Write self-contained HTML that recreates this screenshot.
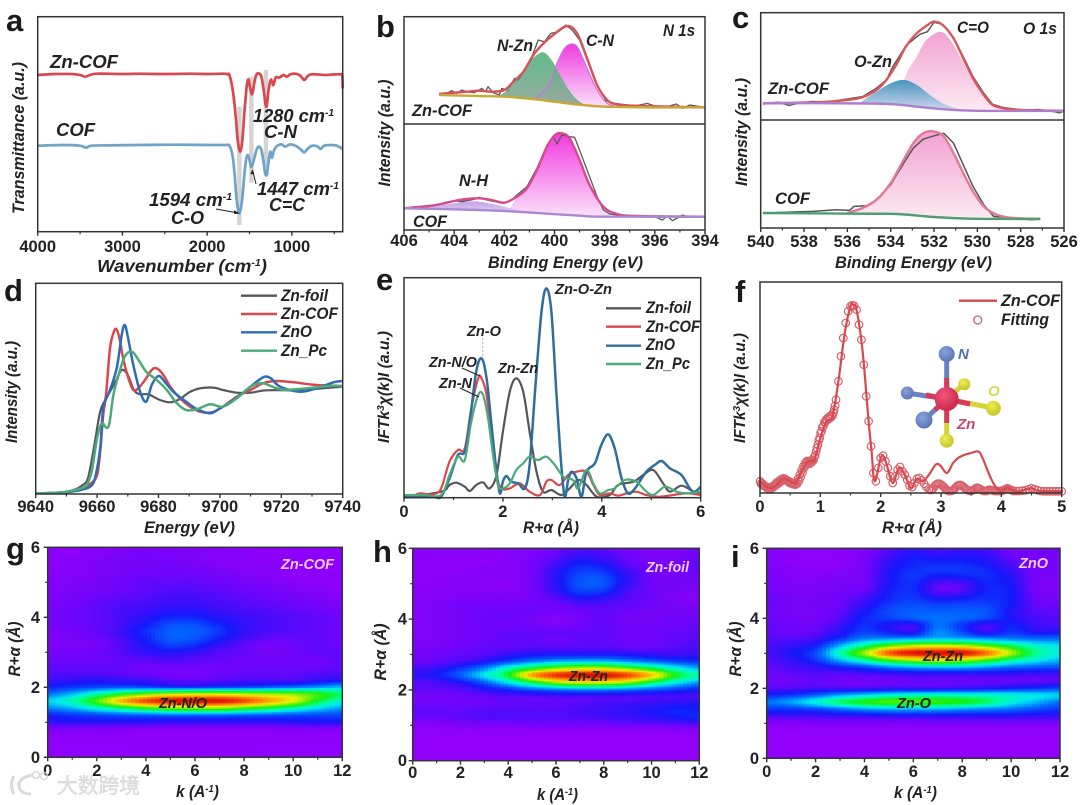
<!DOCTYPE html>
<html lang="en">
<head>
<meta charset="utf-8">
<title>Zn-COF characterisation figure</title>
<style>
html,body{margin:0;padding:0;background:#fff;width:1080px;height:805px;overflow:hidden}
svg{display:block;filter:blur(.3px)}
text{font-family:"Liberation Sans","Noto Sans CJK SC",sans-serif;fill:#222}
.l{font-weight:bold;font-size:31px;fill:#1a1a1a}
.a{font-weight:bold;font-style:italic;font-size:16.5px}
.b{font-weight:bold;font-size:16.5px}
.f{fill:none;stroke:#333;stroke-width:1.5}
</style>
</head>
<body>
<svg id="figure" xmlns="http://www.w3.org/2000/svg" width="1080" height="805" viewBox="0 0 1080 805">
<defs>
<linearGradient id="gPink" x1="0" y1="0" x2="0" y2="1"><stop offset="0" stop-color="#f03ae0"/><stop offset="1" stop-color="#fbe0fa"/></linearGradient>
<linearGradient id="gGreen" x1="0" y1="0" x2="0" y2="1"><stop offset="0" stop-color="#4fb57c"/><stop offset="1" stop-color="#8fa59a"/></linearGradient>
<linearGradient id="gRose" x1="0" y1="0" x2="0" y2="1"><stop offset="0" stop-color="#f3a2d2"/><stop offset="1" stop-color="#fbeaf2"/></linearGradient>
<linearGradient id="gTeal" x1="0" y1="0" x2="0" y2="1"><stop offset="0" stop-color="#3f8fbd"/><stop offset="1" stop-color="#c9d6ea"/></linearGradient>
<linearGradient id="gLilac" x1="0" y1="0" x2="0" y2="1"><stop offset="0" stop-color="#c39fe6"/><stop offset="1" stop-color="#dccbf0"/></linearGradient>
<radialGradient id="bZn" cx=".4" cy=".35" r=".7"><stop offset="0" stop-color="#f0557a"/><stop offset="1" stop-color="#c9254a"/></radialGradient>
<radialGradient id="bN" cx=".4" cy=".35" r=".7"><stop offset="0" stop-color="#8aa2dc"/><stop offset="1" stop-color="#5472b4"/></radialGradient>
<radialGradient id="bO" cx=".4" cy=".35" r=".7"><stop offset="0" stop-color="#eeee55"/><stop offset="1" stop-color="#c2c224"/></radialGradient>
<clipPath id="clipG"><rect x="47.7" y="547.3" width="294.6" height="210"/></clipPath>
<clipPath id="clipH"><rect x="412.7" y="548.3" width="286.6" height="212.4"/></clipPath>
<clipPath id="clipI"><rect x="766.7" y="548.3" width="293.3" height="210"/></clipPath>
</defs>

<g id="marks"></g>

<g>
<rect class="f" x="37.7" y="16.7" width="305" height="215"/>
<rect class="f" x="404" y="16.7" width="301" height="213.3"/>
<line class="f" x1="404" x2="705" y1="124" y2="124"/>
<rect class="f" x="760.7" y="12.7" width="303.3" height="215.3"/>
<line class="f" x1="760.7" x2="1064" y1="120" y2="120"/>
<rect class="f" x="35.7" y="283.3" width="307" height="210.7"/>
<rect class="f" x="404" y="277.7" width="296.7" height="220"/>
<rect class="f" x="760" y="282" width="301.7" height="211"/>
<rect class="f" x="47.7" y="547.3" width="294.6" height="210"/>
<rect class="f" x="412.7" y="548.3" width="286.6" height="212.4"/>
<rect class="f" x="766.7" y="548.3" width="293.3" height="210"/>
</g>

<g>
<text class="l" x="6" y="31">a</text>
<text class="l" x="376" y="37">b</text>
<text class="l" x="732" y="28">c</text>
<text class="l" x="4" y="301">d</text>
<text class="l" x="376" y="290">e</text>
<text class="l" x="735" y="302">f</text>
<text class="l" x="6" y="559">g</text>
<text class="l" x="373" y="562">h</text>
<text class="l" x="731" y="567">i</text>
</g>

<g>
<text class="a" x="50" y="68" textLength="68" lengthAdjust="spacingAndGlyphs" style="font-size:18.5px">Zn-COF</text>
<text class="a" x="56" y="136" textLength="39" lengthAdjust="spacingAndGlyphs" style="font-size:18.5px">COF</text>
<text class="a" x="253" y="122" textLength="81" lengthAdjust="spacingAndGlyphs" style="font-size:18px">1280 cm<tspan dy="-6" font-size="10">-1</tspan></text>
<text class="a" x="264" y="138" textLength="33" lengthAdjust="spacingAndGlyphs" style="font-size:18px">C-N</text>
<text class="a" x="257" y="195" textLength="82" lengthAdjust="spacingAndGlyphs" style="font-size:18px">1447 cm<tspan dy="-6" font-size="10">-1</tspan></text>
<text class="a" x="269" y="211" textLength="36" lengthAdjust="spacingAndGlyphs" style="font-size:18px">C=C</text>
<text class="a" x="149" y="206" textLength="83" lengthAdjust="spacingAndGlyphs" style="font-size:18px">1594 cm<tspan dy="-6" font-size="10">-1</tspan></text>
<text class="a" x="171" y="224" textLength="33" lengthAdjust="spacingAndGlyphs" style="font-size:18px">C-O</text>
<line x1="216" y1="209" x2="238" y2="213" stroke="#222" stroke-width="1"/>
<path d="M240 213.5l-6-3.4.2 4z" fill="#222"/>
<line x1="256" y1="184" x2="253" y2="172" stroke="#222" stroke-width="1"/>
<path d="M252.5 169l-2.2 5.4 4 -.6z" fill="#222"/>
<text class="a" transform="translate(24 138) rotate(-90)" text-anchor="middle" textLength="152" lengthAdjust="spacingAndGlyphs" style="font-size:17px">Transmittance (a.u.)</text>
<text class="a" x="97" y="272" textLength="170" lengthAdjust="spacingAndGlyphs" style="font-size:17.5px">Wavenumber (cm<tspan dy="-6" font-size="10">-1</tspan><tspan dy="6">)</tspan></text>
</g>

<g>
<text class="a" x="497" y="51" textLength="36" lengthAdjust="spacingAndGlyphs">N-Zn</text>
<text class="a" x="586" y="46" textLength="28" lengthAdjust="spacingAndGlyphs">C-N</text>
<text class="a" x="663" y="36" textLength="32" lengthAdjust="spacingAndGlyphs">N 1s</text>
<text class="a" x="412" y="116" textLength="60" lengthAdjust="spacingAndGlyphs">Zn-COF</text>
<text class="a" x="459" y="186" textLength="29" lengthAdjust="spacingAndGlyphs">N-H</text>
<text class="a" x="413" y="227" textLength="34" lengthAdjust="spacingAndGlyphs">COF</text>
<text class="a" transform="translate(390 133) rotate(-90)" text-anchor="middle" textLength="107" lengthAdjust="spacingAndGlyphs">Intensity (a.u.)</text>
<text class="a" x="488" y="268" textLength="155" lengthAdjust="spacingAndGlyphs">Binding Energy (eV)</text>
</g>

<g>
<text class="a" x="957" y="33" textLength="32" lengthAdjust="spacingAndGlyphs">C=O</text>
<text class="a" x="1023" y="34" textLength="34" lengthAdjust="spacingAndGlyphs">O 1s</text>
<text class="a" x="854" y="67" textLength="38" lengthAdjust="spacingAndGlyphs">O-Zn</text>
<text class="a" x="768" y="94" textLength="61" lengthAdjust="spacingAndGlyphs">Zn-COF</text>
<text class="a" x="775" y="204" textLength="35" lengthAdjust="spacingAndGlyphs">COF</text>
<text class="a" transform="translate(747 132) rotate(-90)" text-anchor="middle" textLength="108" lengthAdjust="spacingAndGlyphs">Intensity (a.u.)</text>
<text class="a" x="835" y="268" textLength="157" lengthAdjust="spacingAndGlyphs">Binding Energy (eV)</text>
</g>

<g>
<text class="a" transform="translate(17 392) rotate(-90)" text-anchor="middle" textLength="102" lengthAdjust="spacingAndGlyphs">Intensity (a.u.)</text>
<text class="a" x="144" y="533" textLength="91" lengthAdjust="spacingAndGlyphs">Energy (eV)</text>
<g stroke-width="2.4">
<line x1="241" x2="277" y1="295.7" y2="295.7" stroke="#56565a"/>
<line x1="241" x2="277" y1="314" y2="314" stroke="#d9484f"/>
<line x1="241" x2="277" y1="332.3" y2="332.3" stroke="#2d6db5"/>
<line x1="241" x2="277" y1="350.7" y2="350.7" stroke="#4ea97a"/>
</g>
<text class="a" x="281" y="301" textLength="47" lengthAdjust="spacingAndGlyphs">Zn-foil</text>
<text class="a" x="281" y="319" textLength="57" lengthAdjust="spacingAndGlyphs">Zn-COF</text>
<text class="a" x="281" y="337" textLength="31" lengthAdjust="spacingAndGlyphs">ZnO</text>
<text class="a" x="281" y="356" textLength="46" lengthAdjust="spacingAndGlyphs">Zn_Pc</text>
</g>

<g>
<text class="a" x="555" y="294" textLength="57" lengthAdjust="spacingAndGlyphs" style="font-size:15px">Zn-O-Zn</text>
<text class="a" x="467" y="336" textLength="34" lengthAdjust="spacingAndGlyphs" style="font-size:15px">Zn-O</text>
<text class="a" x="429" y="367" textLength="48" lengthAdjust="spacingAndGlyphs" style="font-size:15px">Zn-N/O</text>
<text class="a" x="439" y="388" textLength="33" lengthAdjust="spacingAndGlyphs" style="font-size:15px">Zn-N</text>
<text class="a" x="498" y="373" textLength="40" lengthAdjust="spacingAndGlyphs" style="font-size:15px">Zn-Zn</text>
<line x1="462" y1="368" x2="480" y2="376" stroke="#222" stroke-width="1"/>
<line x1="460" y1="388" x2="479" y2="397" stroke="#222" stroke-width="1"/>
<line x1="482.7" x2="482.7" y1="338" y2="358" stroke="#a8a8e0" stroke-dasharray="2 2" stroke-width="1"/>
<text class="a" transform="translate(389 387) rotate(-90)" text-anchor="middle" textLength="112" lengthAdjust="spacingAndGlyphs" style="font-size:15.5px">IFTk<tspan dy="-5" font-size="10">3</tspan><tspan dy="5">χ(k)I (a.u.)</tspan></text>
<text class="a" x="523" y="533" textLength="56" lengthAdjust="spacingAndGlyphs">R+α (Å)</text>
<g stroke-width="2.4">
<line x1="606" x2="641" y1="308.3" y2="308.3" stroke="#56565a"/>
<line x1="606" x2="641" y1="326.7" y2="326.7" stroke="#d9484f"/>
<line x1="606" x2="641" y1="345.7" y2="345.7" stroke="#2f6e9c"/>
<line x1="606" x2="641" y1="364" y2="364" stroke="#4ea97a"/>
</g>
<text class="a" x="646" y="313" textLength="45" lengthAdjust="spacingAndGlyphs">Zn-foil</text>
<text class="a" x="646" y="332" textLength="54" lengthAdjust="spacingAndGlyphs">Zn-COF</text>
<text class="a" x="646" y="350" textLength="29" lengthAdjust="spacingAndGlyphs">ZnO</text>
<text class="a" x="646" y="369" textLength="44" lengthAdjust="spacingAndGlyphs">Zn_Pc</text>
</g>

<g>
<text class="a" transform="translate(745 388) rotate(-90)" text-anchor="middle" textLength="110" lengthAdjust="spacingAndGlyphs" style="font-size:15.5px">IFTk<tspan dy="-5" font-size="10">3</tspan><tspan dy="5">χ(k)I (a.u.)</tspan></text>
<text class="a" x="882" y="533" textLength="60" lengthAdjust="spacingAndGlyphs">R+α (Å)</text>
<line x1="959" x2="997" y1="300.7" y2="300.7" stroke="#d9484f" stroke-width="2.4"/>
<circle cx="977.7" cy="320" r="4" fill="none" stroke="#c8606a" stroke-width="1.3"/>
<text class="a" x="1001" y="306" textLength="59" lengthAdjust="spacingAndGlyphs">Zn-COF</text>
<text class="a" x="1001" y="325" textLength="48" lengthAdjust="spacingAndGlyphs">Fitting</text>
<g>
<line x1="946.7" y1="399" x2="946.7" y2="354" stroke="#6c84bd" stroke-width="5"/>
<line x1="946.7" y1="399" x2="907" y2="393" stroke="#6c84bd" stroke-width="5"/>
<line x1="946.7" y1="399" x2="924" y2="420" stroke="#6c84bd" stroke-width="5"/>
<line x1="946.7" y1="399" x2="993" y2="408" stroke="#d4d43a" stroke-width="5"/>
<line x1="946.7" y1="399" x2="964" y2="384" stroke="#d4d43a" stroke-width="5"/>
<line x1="946.7" y1="399" x2="946.7" y2="441" stroke="#d4d43a" stroke-width="5"/>
<line x1="946.7" y1="399" x2="946.7" y2="378" stroke="#d63a58" stroke-width="5"/>
<line x1="946.7" y1="399" x2="926" y2="395" stroke="#d63a58" stroke-width="5"/>
<line x1="946.7" y1="399" x2="935" y2="410" stroke="#d63a58" stroke-width="5"/>
<line x1="946.7" y1="399" x2="970" y2="404" stroke="#d63a58" stroke-width="5"/>
<line x1="946.7" y1="399" x2="946.7" y2="423" stroke="#d63a58" stroke-width="5"/>
<circle cx="946.7" cy="354" r="8" fill="url(#bN)"/>
<circle cx="907.3" cy="393" r="6.5" fill="url(#bN)"/>
<circle cx="924" cy="420" r="8.5" fill="url(#bN)"/>
<circle cx="993.3" cy="408.3" r="7.5" fill="url(#bO)"/>
<circle cx="964.3" cy="384.3" r="6" fill="url(#bO)"/>
<circle cx="946.7" cy="440.7" r="7" fill="url(#bO)"/>
<circle cx="946.7" cy="399" r="12" fill="url(#bZn)"/>
<text class="a" x="958" y="359" style="fill:#5470ac;font-size:15px">N</text>
<text class="a" x="988" y="396" style="fill:#d8d84a;font-size:15px">O</text>
<text class="a" x="957" y="429" style="fill:#c8486a;font-size:15px">Zn</text>
</g>
</g>

<g>
<text class="a" x="281" y="569" textLength="53" lengthAdjust="spacingAndGlyphs" style="font-size:14.5px;fill:#f0c8ff">Zn-COF</text>
<text class="a" x="159" y="708" textLength="48" lengthAdjust="spacingAndGlyphs" style="font-size:14.5px">Zn-N/O</text>
<text class="a" transform="translate(20 649) rotate(-90)" text-anchor="middle" textLength="55" lengthAdjust="spacingAndGlyphs">R+α (Å)</text>
<text class="a" x="176" y="797" textLength="43" lengthAdjust="spacingAndGlyphs">k (A<tspan dy="-5" font-size="10">-1</tspan><tspan dy="5">)</tspan></text>
<text class="a" x="646" y="572" textLength="43" lengthAdjust="spacingAndGlyphs" style="font-size:14.5px;fill:#f0c8ff">Zn-foil</text>
<text class="a" x="569" y="681" textLength="39" lengthAdjust="spacingAndGlyphs" style="font-size:14.5px">Zn-Zn</text>
<text class="a" transform="translate(386 652) rotate(-90)" text-anchor="middle" textLength="57" lengthAdjust="spacingAndGlyphs">R+α (Å)</text>
<text class="a" x="537" y="800" textLength="41" lengthAdjust="spacingAndGlyphs">k (A<tspan dy="-5" font-size="10">-1</tspan><tspan dy="5">)</tspan></text>
<text class="a" x="1019" y="568" textLength="29" lengthAdjust="spacingAndGlyphs" style="font-size:14.5px;fill:#f0c8ff">ZnO</text>
<text class="a" x="923" y="661" textLength="40" lengthAdjust="spacingAndGlyphs" style="font-size:14.5px">Zn-Zn</text>
<text class="a" x="897" y="708" textLength="34" lengthAdjust="spacingAndGlyphs" style="font-size:14.5px">Zn-O</text>
<text class="a" transform="translate(741 649) rotate(-90)" text-anchor="middle" textLength="55" lengthAdjust="spacingAndGlyphs">R+α (Å)</text>
<text class="a" x="894" y="798" textLength="43" lengthAdjust="spacingAndGlyphs">k (A<tspan dy="-5" font-size="10">-1</tspan><tspan dy="5">)</tspan></text>
</g>

<g opacity=".85">
<path d="M14 776q-5 9 0 18M32 775q-14 3-13 11t12 8" fill="none" stroke="#d4d4d4" stroke-width="3"/>
<circle cx="36" cy="775" r="3.5" fill="none" stroke="#d4d4d4" stroke-width="1.6"/>
<circle cx="44" cy="776" r="3.5" fill="none" stroke="#d4d4d4" stroke-width="1.6"/>
<text x="57" y="793" textLength="83" lengthAdjust="spacingAndGlyphs" style="font-size:21px;fill:#dcdcdc;stroke:#c8c8c8;stroke-width:.4">大数跨境</text>
</g>
</svg>

<script>
/* ---------- panel a: FTIR (wavenumber, arbitrary transmittance) ---------- */
const aTickMajor=[4000,3000,2000,1000];
const aTickMinor=[3500,2500,1500,500];
const aBandCentres=[1620,1478,1306];
const aBandLow=[20,147,170];
const aBandHigh=[375,465,485];
const aZnCofWn=[4000,3800,3600,3500,3440,3380,3300,3000,2800,2500,2200,2000,1800,1760,1737,1698,1666,1639,1611,1584,1561,1533,1514,1495,1475,1460,1445,1420,1390,1360,1330,1310,1295,1275,1250,1235,1218,1190,1150,1100,1060,1020,960,900,855,820,780,700,600,500,420,405,400];
const aZnCofT =[470,473,473,470,465,470,474,473,474,473,474,473,474,472,470,425,355,275,240,275,355,435,457,435,413,420,445,470,475,465,420,380,380,425,455,450,440,463,462,470,465,472,474,468,455,465,472,472,470,472,472,470,430];
const aCofWn=[4000,3700,3500,3430,3370,3200,2800,2400,2000,1780,1737,1698,1674,1651,1620,1588,1561,1541,1522,1505,1480,1460,1440,1410,1385,1360,1335,1315,1295,1275,1255,1235,1210,1170,1120,1080,1020,960,900,855,810,760,700,660,620,540,470,400];
const aCofT =[258,260,258,252,258,259,260,261,260,260,258,225,165,95,55,95,170,215,230,220,195,205,225,250,255,245,210,175,172,210,240,222,245,258,262,255,262,258,248,238,250,258,256,248,258,260,258,248];

/* ---------- panel b: N 1s XPS ---------- */
const bTickMajor=[406,404,402,400,398,396,394];
const bTickMinor=[405,403,401,399,397,395];
const bZnFitE=[404.6,404,403.5,403,402.5,402,401.64,401.24,400.84,400.44,400.05,399.5,399.1,398.7,398.3,397.9,397.5,396.5,394];
const bZnFitI=[408,412,415,418,415,420,445,475,525,560,585,612,590,515,435,390,377,372,368];
const bZnRawE=[404.6,404.3,404.1,403.9,403.7,403.5,403.2,402.9,402.75,402.65,402.45,402.2,402.1,401.85,401.6,401.45,401.2,400.9,400.65,400.4,400.15,399.85,399.55,399.3,399,398.7,398.3,397.95,397.6,397.2,396.8,396.3,396,395.6,395.15,394.9,394.6,394];
const bZnRawI=[405,410,418,410,420,415,412,425,415,430,412,405,425,418,455,450,480,520,570,565,590,595,615,600,570,510,435,388,380,376,372,380,372,368,378,365,375,368];
const bZnBgE=[404.6,403,402,401,400,399,398,396,394];
const bZnBgI=[405,402,400,394,385,376,370,368,368];
const bNZnE=[402.3,402,401.6,401.2,400.9,400.6,400.4,400.1,399.8,399.5,399.2,398.9,398.6];
const bNZnI=[398,410,440,480,510,528,530,505,465,425,395,378,372];
const bCNE=[400.8,400.4,400.1,399.9,399.6,399.3,399.05,398.7,398.3,397.9,397.5];
const bCNI=[392,420,455,500,545,558,545,485,420,380,370];
const bCofBgE=[406,404,402,400.5,399,398,394];
const bCofBgI=[65,62,57,50,43,40,40];
const bCofFitE=[406,405,404.5,404,403.5,403,402.5,402,401.5,401.1,400.7,400.3,399.98,399.7,399.4,399,398.6,398.05,397.5,396.7,394];
const bCofFitI=[65,72,78,87,93,95,90,82,100,125,180,250,285,290,275,210,135,70,48,42,40];
const bCofRawE=[406,405.3,405,404.7,404.4,404,403.7,403.2,403,402.7,402.3,402,401.7,401.5,401.1,400.7,400.3,400.05,399.9,399.7,399.4,399.2,399.05,398.7,398.3,398.05,397.8,397.5,396.8,396,395.7,395.5,395.3,395.1,394.9,394.6,394];
const bCofRawI=[65,70,72,76,82,88,85,92,98,90,84,80,90,105,130,185,255,280,258,285,280,278,250,180,100,60,48,45,42,40,30,42,28,36,45,38,40];
const bNHE=[406,405,404.5,404,403.5,403,402.5,402,401.7,401.4];
const bNHI=[65,70,74,80,85,85,78,70,64,56];
const bMainE=[401.8,401.5,401.1,400.7,400.3,399.98,399.7,399.4,399,398.6,398.05,397.6];
const bMainI=[58,98,125,180,250,285,290,275,210,135,70,47];

/* ---------- panel c: O 1s XPS ---------- */
const cTickMajor=[540,538,536,534,532,530,528,526];
const cTickMinor=[539,537,535,533,531,529,527];
const cZnFitE=[539.9,537.3,536,535.3,534.65,534.2,533.7,533.3,532.8,532.3,532,531.6,531.1,530.65,530.2,529.7,529.3,528.8,528,526];
const cZnFitI=[375,378,385,393,415,445,495,545,585,610,620,610,570,510,450,400,370,360,355,352];
const cZnRawE=[539.9,539.2,538.7,538.2,537.6,537,536.5,536,535.3,534.7,534.2,533.9,533.3,532.65,532.3,532,531.6,531.1,530.65,530.2,529.7,529.3,528.8,528.3,527.8,527.2,526.5,526.2,526];
const cZnRawI=[372,378,368,376,380,378,383,388,395,418,445,485,548,582,590,618,612,572,515,455,405,372,362,358,354,356,350,346,352];
const cZnBgE=[539.9,537.3,534.2,532.6,531.1,529.6,526];
const cZnBgI=[375,375,373,363,355,352,352];
const cCOE=[533.7,533.3,532.8,532.35,531.7,531.25,530.8,530.35,529.7,529.1,528.7];
const cCOI=[370,460,515,565,590,565,515,460,395,365,355];
const cOZnE=[535.4,534.65,534,533.4,532.8,532.2,531.6,530.8];
const cOZnI=[378,410,435,445,430,400,375,356];
const cCofBgE=[539.9,535.7,533.7,532,530.35,527.1];
const cCofBgI=[45,43,42,33,28,27];
const cCofFitE=[536,535.3,534.65,534,533.4,532.95,532.5,532,531.55,531.1,530.65,530.2,529.7,529.1,528.3,527.1];
const cCofFitI=[45,60,85,135,205,255,285,290,275,225,165,110,65,40,30,28];
const cCofRawE=[539.9,537.6,536.5,535.9,535.7,535.1,534.65,534,533.4,532.95,532.5,532,531.55,531.1,530.65,530.2,529.7,529.25,528.4,527.5,527.1];
const cCofRawI=[45,50,55,53,65,67,85,130,195,240,267,277,285,255,190,125,70,35,30,25,27];

/* ---------- panel d: XANES ---------- */
const dTickMajor=[9640,9660,9680,9700,9720,9740];
const dTickMinor=[9650,9670,9690,9710,9730];
const dFoilE=[9640,9645,9650,9653,9655,9657,9659,9661,9663,9666,9668,9670,9672,9674,9676.7,9680.5,9683.8,9687,9690,9693.5,9698,9701,9705.5,9710,9715,9726,9740];
const dFoilI=[2,3,7,14,25,47,140,247,287,337,372,357,312,299,299,282,275,285,305,317,319,312,304,304,311,312,322];
const dCofE=[9640,9645,9650,9653,9655,9658,9660,9661,9662,9663,9664.2,9665.3,9666.2,9667.3,9668.6,9670.2,9671.8,9673.4,9675.6,9677.8,9679.4,9681.6,9683.8,9687,9690.3,9693.5,9697.3,9701,9705.5,9710,9714,9718.5,9724,9731.5,9740];
const dCofI=[2,3,6,10,15,32,57,127,237,307,437,482,495,467,402,347,312,317,342,372,377,357,322,287,262,247,245,262,292,312,332,339,335,327,324];
const dZnoE=[9640,9645,9650,9653,9655,9657.7,9659.3,9661,9662,9664,9666.4,9668,9669,9670,9671.8,9674,9676,9677.8,9680,9682,9684.8,9689,9692.4,9696.8,9700,9704.4,9708.7,9712,9714.7,9716.9,9719.6,9726,9731.5,9737,9740];
const dZnoI=[2,3,5,9,13,22,47,137,257,307,377,477,507,472,387,307,277,327,354,337,307,277,255,242,257,282,312,337,352,345,322,307,317,335,339];
const dPcE=[9640,9645,9650,9653,9655,9656.6,9658.2,9660,9661.5,9663,9664,9665.3,9667,9669,9671.3,9673.5,9676,9679.4,9682.7,9686,9689,9692.4,9696.8,9701,9705.5,9710,9714,9719.6,9726,9737,9740];
const dPcI=[2,3,7,12,18,27,67,167,212,199,212,297,357,412,427,402,367,342,312,272,252,254,269,262,287,322,332,314,315,325,321];

/* ---------- panel e: FT-EXAFS ---------- */
const eTickMajor=[0,2,4,6];
const eTickMinor=[1,3,5];
const eZnoR=[0,.2,.4,.6,.75,.92,1.09,1.23,1.33,1.46,1.57,1.67,1.77,1.87,1.94,2,2.07,2.17,2.31,2.44,2.54,2.65,2.78,2.88,2.98,3.08,3.18,3.25,3.32,3.39,3.49,3.59,3.69,3.86,3.99,4.13,4.26,4.4,4.53,4.67,4.9,5.07,5.21,5.38,5.61,5.78,5.88,6];
const eZnoI=[3,3,3,3,3,58,128,138,228,378,418,358,218,78,13,48,65,48,43,28,98,318,558,628,558,318,98,3,53,78,58,3,78,103,158,190,148,58,13,28,78,98,110,88,68,28,18,33];
const eCofR=[0,.18,.32,.59,.75,.92,1.09,1.23,1.36,1.5,1.57,1.67,1.77,1.87,1.97,2.14,2.34,2.54,2.75,2.88,2.98,3.15,3.32,3.49,3.69,3.83,3.96,4.16,4.33,4.5,4.7,4.9,5.18,5.7,6];
const eCofI=[8,6,13,10,28,108,143,148,268,358,358,308,188,68,28,28,43,18,8,48,53,38,68,78,78,38,8,13,6,13,18,8,3,13,8];
const ePcR=[0,.4,.75,.92,1.09,1.23,1.36,1.5,1.6,1.7,1.8,1.9,2,2.14,2.27,2.41,2.54,2.71,2.88,3.05,3.22,3.42,3.52,3.69,3.83,3.96,4.13,4.26,4.47,4.7,4.87,5.04,5.28,5.51,5.72,6];
const ePcI=[8,8,8,68,123,113,228,308,308,238,128,38,28,43,83,103,123,113,123,98,63,53,28,83,43,13,23,28,53,48,23,8,33,18,13,18];
const eFoilR=[0,.75,.92,1.06,1.23,1.33,1.46,1.6,1.73,1.87,2,2.14,2.27,2.41,2.54,2.68,2.81,2.98,3.18,3.35,3.52,3.69,3.9,4.16,4.33,4.64,4.84,5.04,5.24,5.38,5.61,5.85,6];
const eFoilI=[0,18,38,45,33,20,38,46,28,68,198,318,358,318,198,78,18,23,8,28,53,38,3,8,38,48,68,83,43,18,36,18,8];

/* ---------- panel f: Zn-COF data and fit ---------- */
const fTickMajor=[0,1,2,3,4,5];
const fTickMinor=[.5,1.5,2.5,3.5,4.5];
const fLineR=[0,.1,.2,.3,.4,.5,.6,.7,.8,.9,1,1.1,1.2,1.3,1.4,1.5,1.55,1.6,1.7,1.8,1.85,1.9,2,2.05,2.1,2.2,2.3,2.4,2.5,2.6,2.7,2.8,2.9,2.95,3,3.1,3.2,3.3,3.4,3.5,3.6,3.65,3.7,3.8,3.9,4,4.1,4.2,4.3,4.5,4.6,5];
const fLineI=[35,20,15,30,43,35,30,70,95,100,165,215,230,335,475,560,563,550,425,215,125,35,105,110,85,30,75,55,15,43,35,55,83,87,80,60,90,107,115,120,125,120,100,55,20,7,15,7,5,15,7,5];
const fFitR=[0,.03,.06,.09,.12,.15,.18,.21,.24,.27,.3,.33,.36,.39,.42,.45,.48,.51,.54,.57,.6,.63,.66,.69,.72,.75,.78,.81,.84,.87,.9,.93,.96,.99,1.02,1.05,1.08,1.11,1.14,1.17,1.2,1.23,1.26,1.3,1.34,1.38,1.42,1.46,1.5,1.53,1.56,1.6,1.64,1.68,1.72,1.76,1.8,1.84,1.88,1.92,1.96,2,2.04,2.08,2.12,2.16,2.2,2.24,2.28,2.32,2.36,2.4,2.44,2.48,2.52,2.56,2.6,2.64,2.68,2.72,2.76,2.8,2.85,2.9,2.95,3,3.05,3.1,3.15,3.2,3.25,3.3,3.35,3.4,3.45,3.5,3.55,3.6,3.65,3.7,3.75,3.8,3.85,3.9,3.95,4,4.05,4.1,4.15,4.2,4.3,4.4,4.5,4.6,4.7,4.8,4.9,5];
const fFitI=[35,30,25,20,18,16,15,20,24,30,34,38,42,44,42,38,35,32,30,30,32,42,55,68,80,90,96,96,97,100,108,125,145,165,185,200,212,218,222,226,232,250,280,335,410,465,510,545,560,563,562,550,505,460,385,290,215,140,60,35,75,105,112,95,75,50,30,50,70,78,65,55,40,22,18,30,43,45,38,28,18,12,10,22,28,25,18,8,6,8,18,24,22,14,8,6,10,16,12,7,6,10,8,6,6,6,10,14,10,6,6,8,14,8,5,5,5,5];
const fFitLowR=[.015,.045,.075,.105,.135,.165,.195,.225,.255,.285,.315,.345,.375,.405,.435,.465,.495,.525,.555,.585,.615,.645,.675,.705,.735,.765,.795,.825,.855,.885,.915,.945,.975,1.005,1.035,1.065,1.095,1.125,1.155,1.185,1.215,1.245];
const fFitLowI=[28,24,20,16,14,12,14,18,22,26,30,34,38,40,38,34,30,28,26,25,28,36,48,62,76,86,90,88,92,98,112,135,158,180,198,212,220,226,230,234,240,262];
const fFitHighR=[2.825,2.875,2.925,2.975,3.025,3.075,3.125,3.175,3.225,3.275,3.325,3.375,3.425,3.475,3.525,3.575,3.625,3.675,3.725,3.775,3.825,3.875,3.925,3.975,4.025,4.075,4.125,4.175,4.25,4.35,4.45,4.55,4.65,4.75,4.85,4.95];
const fFitHighI=[9,14,26,28,22,12,6,7,13,22,24,18,10,7,8,14,14,9,6,8,9,7,6,6,8,12,12,8,6,7,11,11,6,5,5,5];

/* ---------- panels g-i: wavelet maps (rows R=6.0 down to 0.0 in 0.2 steps, columns k=0..12) ---------- */
const kTickMajor=[0,2,4,6,8,10,12];
const kTickMinor=[1,3,5,7,9,11];
const rTickMajor=[0,2,4,6];
const rTickMinor=[1,3,5];
const gMap=[
[9,9,10,10,11,11,10,10,9,9,9,9,9],
[9,9,10,11,12,11,11,10,10,9,9,9,9],
[9,10,11,12,12,12,11,10,10,9,9,8,8],
[9,10,11,12,12,13,12,11,10,10,9,8,8],
[10,10,11,12,13,13,13,12,11,10,9,9,9],
[10,11,12,13,14,14,14,13,12,11,10,9,9],
[10,11,12,13,14,15,15,14,13,12,11,10,9],
[11,12,13,14,15,16,16,15,14,13,12,11,10],
[11,12,14,15,16,17,17,16,15,14,13,12,11],
[12,13,14,16,17,19,19,17,16,15,14,13,12],
[12,13,14,16,19,22,22,19,17,16,15,14,13],
[12,13,14,16,21,26,26,22,18,16,15,14,13],
[11,12,14,17,23,28,28,24,18,16,15,14,13],
[11,12,13,16,22,28,27,22,17,14,14,14,13],
[11,11,12,15,20,25,23,18,14,12,13,14,13],
[12,12,13,15,18,20,18,15,14,12,13,14,14],
[13,13,13,14,15,16,15,14,13,13,13,13,14],
[14,14,14,14,13,13,13,13,13,13,13,13,14],
[15,15,15,14,13,12,12,13,14,14,14,15,15],
[17,18,19,18,17,15,14,15,16,16,16,18,20],
[22,24,26,27,26,24,24,25,26,28,30,33,36],
[30,36,46,56,64,70,72,72,70,68,66,60,52],
[38,46,62,82,94,100,100,100,94,84,74,56,44],
[32,36,44,52,60,66,68,68,62,56,48,40,34],
[22,24,26,28,29,30,30,30,29,28,27,26,26],
[18,19,19,19,19,18,18,18,18,18,19,20,20],
[11,11,11,11,10,10,10,10,10,10,11,11,11],
[9,9,9,9,8,8,8,8,8,9,9,9,9],
[8,8,8,8,8,8,8,8,8,8,8,8,8],
[8,8,8,8,8,8,8,8,8,8,8,8,8],
[8,8,8,8,8,8,8,8,8,8,8,8,8]];
const hMap=[
[9,9,9,9,10,11,13,15,14,12,11,11,13],
[9,9,9,9,10,11,14,17,16,13,11,11,13],
[9,9,9,9,10,12,16,21,19,14,12,12,14],
[9,9,9,10,10,12,18,24,23,16,13,12,14],
[9,9,10,10,10,12,19,26,26,18,13,12,13],
[9,9,10,10,9,12,19,27,27,18,13,12,12],
[9,10,10,10,10,12,18,25,24,16,13,12,11],
[10,10,11,11,11,12,15,20,19,15,13,11,10],
[10,11,12,12,12,13,13,15,15,14,13,12,11],
[10,11,12,13,13,13,12,13,14,13,12,12,12],
[10,11,12,13,13,12,10,12,14,12,12,13,13],
[10,11,12,13,13,13,12,13,14,13,13,13,14],
[10,11,12,13,14,14,14,14,14,13,13,14,14],
[11,11,12,13,14,14,13,14,14,13,13,14,15],
[11,12,13,14,14,15,15,15,15,14,14,15,16],
[12,13,14,15,18,20,21,21,21,20,18,17,18],
[13,14,16,20,26,32,36,38,38,34,30,26,24],
[16,18,24,32,46,58,68,73,73,66,56,44,36],
[18,21,28,40,56,84,96,100,100,94,80,58,46],
[15,16,20,28,40,54,68,74,74,68,54,42,34],
[14,14,15,19,23,28,31,33,33,31,28,25,22],
[12,12,13,14,15,15,16,16,16,16,16,16,16],
[13,13,13,13,14,14,14,15,16,17,18,19,20],
[14,14,14,15,15,15,15,16,17,18,20,22,22],
[13,13,14,15,15,15,15,15,16,17,18,20,22],
[10,10,11,11,11,12,12,12,12,13,13,14,14],
[8,8,8,8,8,8,8,8,8,8,8,9,9],
[7,7,7,7,7,7,7,7,7,7,7,7,7],
[7,7,7,7,7,7,7,7,7,7,7,7,7],
[7,7,7,7,7,7,7,7,7,7,7,7,7],
[7,7,7,7,7,7,7,7,7,7,7,7,7]];
const iMap=[
[11,9,8,9,11,15,18,16,17,16,12,12,13],
[11,9,8,9,11,16,20,18,19,18,13,12,12],
[11,9,8,9,12,18,22,22,22,20,15,12,12],
[11,10,9,10,12,19,23,24,24,22,17,12,12],
[12,10,10,11,12,20,24,21,22,23,19,12,12],
[12,11,11,12,12,20,23,16,16,22,20,12,11],
[12,11,11,12,13,21,23,14,15,22,21,12,11],
[13,12,12,13,16,22,24,19,20,23,21,13,12],
[13,12,12,13,18,24,26,25,25,25,21,14,13],
[13,12,12,14,20,26,28,28,28,27,20,15,14],
[13,12,12,15,22,25,28,30,29,26,20,16,15],
[14,13,13,17,23,20,18,30,24,17,22,17,16],
[14,13,14,19,25,22,19,32,26,18,24,20,20],
[15,15,17,24,32,34,36,38,37,34,32,30,30],
[16,18,22,36,50,64,72,74,72,64,54,44,40],
[16,20,26,46,68,92,100,100,100,90,70,50,42],
[15,18,24,36,48,62,70,74,70,62,50,42,36],
[14,16,18,22,26,32,36,38,38,34,30,28,27],
[13,14,15,15,16,17,18,18,18,18,18,17,17],
[13,13,14,13,13,13,14,14,14,14,14,14,15],
[15,15,16,16,16,17,17,17,18,19,21,23,25],
[22,24,28,34,38,42,44,45,44,44,42,40,38],
[30,34,42,52,58,62,62,60,58,52,42,36,30],
[24,24,26,30,34,36,36,36,34,32,30,27,24],
[16,17,17,18,18,19,19,19,19,19,19,18,18],
[10,10,11,11,11,11,11,12,12,12,12,12,12],
[8,8,8,8,8,8,8,8,8,8,8,8,8],
[7,7,7,7,7,7,7,7,7,7,7,7,7],
[7,7,7,7,7,7,7,7,7,7,7,7,7],
[7,7,7,7,7,7,7,7,7,7,7,7,7],
[7,7,7,7,7,7,7,7,7,7,7,7,7]];

/* ---------- helpers ---------- */
const NS='http://www.w3.org/2000/svg';
const marks=document.getElementById('marks');
function scale(d0,d1,r0,r1){return v=>r0+(v-d0)*(r1-r0)/(d1-d0);}
function make(parent,tag,props){
  const n=document.createElementNS(NS,tag);
  for(const k in props)n.setAttribute(k,props[k]);
  parent.appendChild(n);
  return n;
}
function smooth(xs,ys,fx,fy){
  const n=Math.min(xs.length,ys.length),p=[];
  for(let i=0;i<n;i++)p.push([fx(xs[i]),fy(ys[i])]);
  let d='M'+p[0][0].toFixed(1)+' '+p[0][1].toFixed(1);
  for(let i=0;i<n-1;i++){
    const a=p[Math.max(i-1,0)],b=p[i],c=p[i+1],e=p[Math.min(i+2,n-1)];
    d+='C'+(b[0]+(c[0]-a[0])/6).toFixed(1)+' '+(b[1]+(c[1]-a[1])/6).toFixed(1)+' '+(c[0]-(e[0]-b[0])/6).toFixed(1)+' '+(c[1]-(e[1]-b[1])/6).toFixed(1)+' '+c[0].toFixed(1)+' '+c[1].toFixed(1);
  }
  return d;
}
function straight(xs,ys,fx,fy){
  let d='';
  const n=Math.min(xs.length,ys.length);
  for(let i=0;i<n;i++)d+=(i?'L':'M')+fx(xs[i]).toFixed(1)+' '+fy(ys[i]).toFixed(1);
  return d;
}
function line(xs,ys,fx,fy,color,width,name,raw){
  const p=make(marks,'path',{d:raw?straight(xs,ys,fx,fy):smooth(xs,ys,fx,fy),fill:'none',stroke:color,'stroke-width':width,'stroke-linejoin':'round'});
  
  
}
function area(xs,ys,bx,by,fx,fy,fill,opacity,name){
  let d=smooth(xs,ys,fx,fy);
  const hi=Math.max(xs[0],xs[xs.length-1]),lo=Math.min(xs[0],xs[xs.length-1]);
  for(let i=bx.length-1;i>=0;i--){
    if(bx[i]<=hi&&bx[i]>=lo)d+='L'+fx(bx[i]).toFixed(1)+' '+fy(by[i]).toFixed(1);
  }
  d+='Z';
  const p=make(marks,'path',{d:d,fill:fill,opacity:opacity});
  
  
}
function points(xs,ys,fx,fy,r,name){
  const n=Math.min(xs.length,ys.length);
  for(let i=0;i<n;i++){
    const c=make(marks,'circle',{cx:fx(xs[i]).toFixed(1),cy:fy(ys[i]).toFixed(1),r:r,fill:'none',stroke:'#d8606a','stroke-width':1.2});
    
    
  }
}
function xTicks(major,minor,fx,yBase,yLabel,name){
  minor.forEach(v=>{
    const t=make(marks,'line',{x1:fx(v),x2:fx(v),y1:yBase,y2:yBase+2.5,stroke:'#333','stroke-width':1.2});
    
    
  });
  major.forEach(v=>{
    const t=make(marks,'line',{x1:fx(v),x2:fx(v),y1:yBase,y2:yBase+4,stroke:'#333','stroke-width':1.4});
    
    
    const l=make(marks,'text',{x:fx(v),y:yLabel,'text-anchor':'middle','class':'b'});
    l.textContent=String(v);
    
    
  });
}
function yTicks(major,minor,fy,xBase,xLabel,name){
  minor.forEach(v=>{
    const t=make(marks,'line',{x1:xBase,x2:xBase-2.5,y1:fy(v),y2:fy(v),stroke:'#333','stroke-width':1.2});
    
    
  });
  major.forEach(v=>{
    const t=make(marks,'line',{x1:xBase,x2:xBase-4,y1:fy(v),y2:fy(v),stroke:'#333','stroke-width':1.4});
    
    
    const l=make(marks,'text',{x:xLabel,y:fy(v)+5.5,'text-anchor':'end','class':'b'});
    l.textContent=String(v);
    
    
  });
}
function colour(v){
  const s=[[0,160,0,255],[9,140,0,250],[13,110,4,250],[17,60,14,250],[21,20,24,250],[30,0,112,255],[40,0,232,240],[48,0,255,160],[58,20,240,16],[75,240,240,0],[88,255,128,0],[100,224,16,0]];
  v=Math.max(0,Math.min(100,v));
  for(let i=1;i<s.length;i++){
    if(v<=s[i][0]){
      const t=(v-s[i-1][0])/(s[i][0]-s[i-1][0]);
      return 'rgb('+[1,2,3].map(c=>Math.round(s[i-1][c]+(s[i][c]-s[i-1][c])*t)).join(',')+')';
    }
  }
  return 'rgb(224,16,0)';
}
function cubic(a,b,c,d,t){return b+.5*t*(c-a+t*(2*a-5*b+4*c-d+t*(3*(b-c)+d-a)));}
function sampleMap(m,k,R){
  const fy=(6-R)/.2,fx=k;
  const iy=Math.min(Math.floor(fy),m.length-1),ix=Math.min(Math.floor(fx),m[0].length-1);
  const ty=fy-iy,tx=fx-ix,col=[];
  for(let j=-1;j<3;j++){
    const r=m[Math.max(0,Math.min(m.length-1,iy+j))];
    const g=i=>r[Math.max(0,Math.min(r.length-1,i))];
    col.push(cubic(g(ix-1),g(ix),g(ix+1),g(ix+2),tx));
  }
  return cubic(col[0],col[1],col[2],col[3],ty);
}
function heat(m,x0,x1,y0,y1,clip,name){
  const fk=scale(0,12,x0,x1),fR=scale(0,6,y1,y0),SX=4,SY=1.5;
  const g=make(marks,'g',{'clip-path':'url(#'+clip+')','shape-rendering':'crispEdges'});
  
  
  const nk=Math.ceil((x1-x0)/SX),nr=Math.ceil((y1-y0)/SY);
  for(let a=0;a<nk;a++){
    for(let b=0;b<nr;b++){
      const k=12*(a+.5)/nk,R=6-6*(b+.5)/nr;
      const c=make(g,'rect',{x:(fk(k)-SX/2-.2).toFixed(1),y:(fR(R)-SY/2-.2).toFixed(1),width:SX+.6,height:SY+.6,fill:colour(sampleMap(m,k,R))});
      
      
    }
  }
}

/* ---------- panel a ---------- */
(function(){
  const fx=scale(4000,400,37.7,342.7),fy=scale(0,645,231.7,16.7);
  aBandCentres.forEach((w,i)=>{
    const b=make(marks,'rect',{x:fx(w)-2.2,y:fy(aBandHigh[i]),width:4.4,height:fy(aBandLow[i])-fy(aBandHigh[i]),fill:'#d4d4d4'});
    
    
  });
  line(aZnCofWn,aZnCofT,fx,fy,'#d8484e',2.7,'series-zn-cof-ftir');
  line(aCofWn,aCofT,fx,fy,'#6fa3c8',2.7,'series-cof-ftir');
  xTicks(aTickMajor,aTickMinor,fx,231.7,252,'x-axis-a');
})();

/* ---------- panel b ---------- */
(function(){
  const fx=scale(406,394,404,705),fy=scale(0,640,230,16.7);
  area(bCNE,bCNI,bZnBgE,bZnBgI,fx,fy,'url(#gPink)',1,'peak-c-n');
  area(bNZnE,bNZnI,bZnBgE,bZnBgI,fx,fy,'url(#gGreen)',.9,'peak-n-zn');
  line(bZnRawE,bZnRawI,fx,fy,'#5a5a5a',1.3,'series-zn-cof-n1s-raw',true);
  line(bCNE,bCNI,fx,fy,'#d070d8',1.2,'outline-c-n');
  line(bNZnE,bNZnI,fx,fy,'#6bb58c',1.2,'outline-n-zn');
  line(bZnFitE,bZnFitI,fx,fy,'#d85058',2.4,'series-zn-cof-n1s-fit');
  line(bZnBgE,bZnBgI,fx,fy,'#c9a83a',2.4,'series-zn-cof-n1s-background');
  area(bMainE,bMainI,bCofBgE,bCofBgI,fx,fy,'url(#gPink)',1,'peak-cof-main');
  area(bNHE,bNHI,bCofBgE,bCofBgI,fx,fy,'url(#gLilac)',1,'peak-n-h');
  line(bCofRawE,bCofRawI,fx,fy,'#5a5a5a',1.3,'series-cof-n1s-raw',true);
  line(bCofFitE,bCofFitI,fx,fy,'#d84a8c',2.4,'series-cof-n1s-fit');
  line(bCofBgE,bCofBgI,fx,fy,'#a98ad0',2.4,'series-cof-n1s-background');
  xTicks(bTickMajor,bTickMinor,fx,230,246,'x-axis-b');
})();

/* ---------- panel c ---------- */
(function(){
  const fx=scale(540,526,760.7,1064),fy=scale(0,647,228,12.7);
  area(cCOE,cCOI,cZnBgE,cZnBgI,fx,fy,'url(#gRose)',1,'peak-c-o-double');
  area(cOZnE,cOZnI,cZnBgE,cZnBgI,fx,fy,'url(#gTeal)',.95,'peak-o-zn');
  line(cZnRawE,cZnRawI,fx,fy,'#555',1.4,'series-zn-cof-o1s-raw',true);
  line(cZnFitE,cZnFitI,fx,fy,'#d8575c',2.4,'series-zn-cof-o1s-fit');
  line(cZnBgE,cZnBgI,fx,fy,'#b07ccc',2.4,'series-zn-cof-o1s-background');
  area(cCofFitE,cCofFitI,cCofBgE,cCofBgI,fx,fy,'url(#gRose)',1,'peak-cof-o1s');
  line(cCofRawE,cCofRawI,fx,fy,'#555',1.5,'series-cof-o1s-raw',true);
  line(cCofFitE,cCofFitI,fx,fy,'#e07a98',2.4,'series-cof-o1s-fit');
  line(cCofBgE,cCofBgI,fx,fy,'#4f9e70',2.4,'series-cof-o1s-background');
  xTicks(cTickMajor,cTickMinor,fx,228,247,'x-axis-c');
})();

/* ---------- panel d ---------- */
(function(){
  const fx=scale(9640,9740,35.7,342.7),fy=scale(0,632,494,283.3);
  line(dFoilE,dFoilI,fx,fy,'#56565a',2.2,'series-zn-foil-xanes');
  line(dCofE,dCofI,fx,fy,'#d9484f',2.5,'series-zn-cof-xanes');
  line(dZnoE,dZnoI,fx,fy,'#2d6db5',2.5,'series-zno-xanes');
  line(dPcE,dPcI,fx,fy,'#4ea97a',2.5,'series-zn-pc-xanes');
  xTicks(dTickMajor,dTickMinor,fx,494,512,'x-axis-d');
})();

/* ---------- panel e ---------- */
(function(){
  const fx=scale(0,6,404,700.7),fy=scale(0,660,497.7,277.7);
  line(eFoilR,eFoilI,fx,fy,'#56565a',2.2,'series-zn-foil-exafs');
  line(eCofR,eCofI,fx,fy,'#d9484f',2.2,'series-zn-cof-exafs');
  line(eZnoR,eZnoI,fx,fy,'#2f6e9c',2.5,'series-zno-exafs');
  line(ePcR,ePcI,fx,fy,'#4ea97a',2.2,'series-zn-pc-exafs');
  xTicks(eTickMajor,eTickMinor,fx,497.7,517,'x-axis-e');
})();

/* ---------- panel f ---------- */
(function(){
  const fx=scale(0,5,760,1061.7),fy=scale(0,633,493,282);
  points(fFitR,fFitI,fx,fy,3.8,'fit-point');
  points(fFitLowR,fFitLowI,fx,fy,3.8,'fit-point-low-r');
  points(fFitHighR,fFitHighI,fx,fy,3.8,'fit-point-high-r');
  line(fLineR,fLineI,fx,fy,'#d9484f',2.2,'series-zn-cof-r-space');
  xTicks(fTickMajor,fTickMinor,fx,493,512,'x-axis-f');
})();

/* ---------- panels g, h, i ---------- */
heat(gMap,47.7,342.3,547.3,757.3,'clipG','heatmap-g');
heat(hMap,412.7,699.3,548.3,760.7,'clipH','heatmap-h');
heat(iMap,766.7,1060,548.3,758.3,'clipI','heatmap-i');
xTicks(kTickMajor,kTickMinor,scale(0,12,47.7,342.3),757.3,776,'x-axis-g');
yTicks(rTickMajor,rTickMinor,scale(0,6,757.3,547.3),47.7,40,'y-axis-g');
xTicks(kTickMajor,kTickMinor,scale(0,12,412.7,699.3),760.7,778,'x-axis-h');
yTicks(rTickMajor,rTickMinor,scale(0,6,760.7,548.3),412.7,407,'y-axis-h');
xTicks(kTickMajor,kTickMinor,scale(0,12,766.7,1060),758.3,777,'x-axis-i');
yTicks(rTickMajor,rTickMinor,scale(0,6,758.3,548.3),766.7,759,'y-axis-i');
</script>
</body>
</html>
